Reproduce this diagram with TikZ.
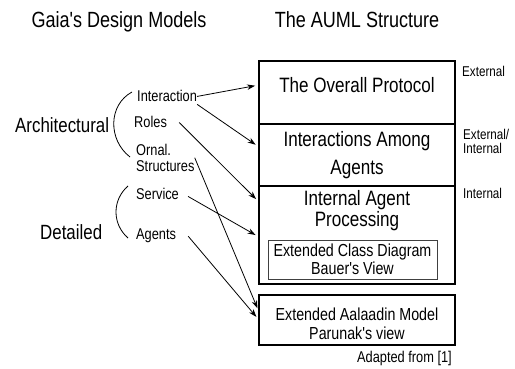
\documentclass[tikz,border=0pt]{standalone}
\usepackage{fontspec}
\setmainfont{Liberation Sans}[FakeStretch=0.82, Ligatures=TeXOff]
\usetikzlibrary{arrows.meta, positioning}
\tikzset{
  layer/.style={
    rectangle, draw=black, line width=1.2pt,
    minimum width=196pt, inner sep=0pt, outer sep=0pt
  },
  subbox/.style={
    rectangle, draw=black!75, line width=0.8pt,
    minimum width=169pt, minimum height=39pt, inner sep=0pt
  },
  boxtxt/.style={font=\fontsize{20.8}{28}\selectfont, align=center, inner sep=0pt},
  subtxt/.style={font=\fontsize{17.4}{17.5}\selectfont, align=center, inner sep=0pt},
  heading/.style={font=\fontsize{22}{26}\selectfont, anchor=base, inner sep=0pt},
  tier/.style={font=\fontsize{20.6}{24}\selectfont, anchor=base west, inner sep=0pt},
  gaia/.style={font=\fontsize{15.6}{15.5}\selectfont, anchor=base west, inner sep=0pt, align=left},
  sidelbl/.style={font=\fontsize{14.2}{14}\selectfont, anchor=base west, inner sep=0pt, align=left},
  arr/.style={
    -{Stealth[length=8pt,width=5.5pt]},
    black, line width=0.8pt, shorten >=4pt
  },
}
\begin{document}
\begin{tikzpicture}[x=1pt, y=-1pt]
  \useasboundingbox (0,0) rectangle (515,369);

  \node[heading] (gtitle) at (119,28) {Gaia's Design Models};
  \node[heading] (atitle) at (357,28) {The AUML Structure};

  % AUML layers
  \node[layer, minimum height=63pt, anchor=north west] (proto) at (259,61) {};
  \node[layer, minimum height=62pt, below=0pt of proto] (inter) {};
  \node[layer, minimum height=98pt, below=0pt of inter] (low) {};
  \node[layer, minimum height=50pt, below=11pt of low] (ext) {};

  \node[boxtxt, anchor=base] (protot) at (proto.center) {The Overall Protocol};
  \node[boxtxt] (intert) at (inter.center) {Interactions Among\\Agents};
  \node[boxtxt, font=\fontsize{20.8}{21}\selectfont, below=4pt of low.north] (lowt)
    {Internal Agent\\Processing};
  \node[subbox] (cls) at (352.5,259.5) {};
  \node[subtxt] (clst) at (cls.center) {Extended Class Diagram\\Bauer's View};
  \node[subtxt, font=\fontsize{17.4}{19}\selectfont] (extt) at ([yshift=-4pt]ext.center)
    {Extended Aalaadin Model\\Parunak's view};

  \node[sidelbl] (extl) at (462,77) {External};
  \node[sidelbl, anchor=north west] (bothl) at (463,129) {External/\\Internal};
  \node[sidelbl] (intl) at (463,199) {Internal};
  \node[gaia] (src) at (357,362) {Adapted from [1]};

  % Gaia models
  \node[tier] (arch) at (15,132) {Architectural};
  \node[tier] (det) at (40,240) {Detailed};
  \node[gaia] (intr) at (137,102) {Interaction};
  \node[gaia] (roles) at (134,128) {Roles};
  \node[gaia, anchor=north west] (orgs) at (136,144) {Ornal.\\Structures};
  \node[gaia] (serv) at (136,200) {Service};
  \node[gaia] (agt) at (136,240) {Agents};

  \draw[line width=0.8pt] (132,92) .. controls (108,105) and (108,140) .. (130,157);
  \draw[line width=0.8pt] (128,186) .. controls (112,200) and (112,224) .. (128,238);

  \draw[arr] (intr.east) -- ([yshift=7.5pt]proto.west);
  \draw[arr] ([yshift=-2pt]intr.south east) -- ([yshift=8pt]inter.west);
  \draw[arr] ([xshift=12pt]roles.east) -- ([yshift=-16pt]low.north west);
  \draw[arr] (orgs.east) -- ([yshift=8pt]ext.west);
  \draw[arr] ([xshift=9pt,yshift=-2pt]serv.east) -- ([yshift=-2pt]low.west);
  \draw[arr] ([xshift=12pt]agt.east) -- (ext.west);
\end{tikzpicture}
\end{document}
